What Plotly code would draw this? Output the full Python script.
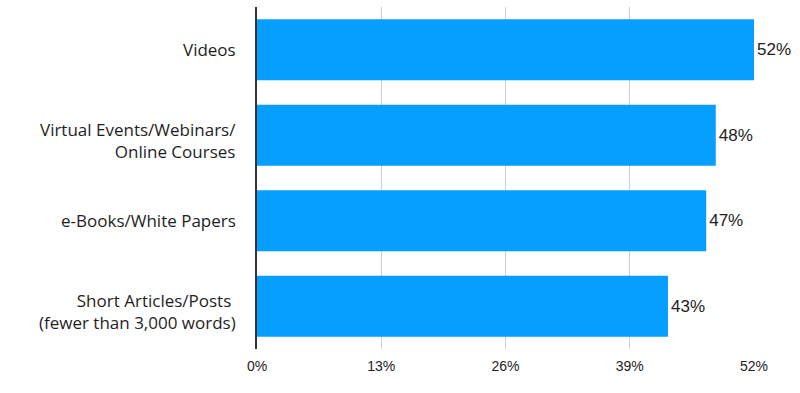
import plotly.graph_objects as go

categories = ["Short Articles/Posts <br>(fewer than 3,000 words)", "e-Books/White Papers",
              "Virtual Events/Webinars/<br>Online Courses", "Videos"]
values = [43, 47, 48, 52]
tick_vals = [0, 13, 26, 39, 52]
tick_text = ["0%", "13%", "26%", "39%", "52%"]

fig = go.Figure(go.Bar(
    y=categories, x=values, orientation="h",
    marker=dict(color="#069fff", line=dict(width=0)),
    text=[f"{v}%" for v in values], textposition="outside",
    textfont=dict(family="Liberation Sans, Arial", size=17, color="#222"),
    cliponaxis=False,
))

for c in categories:
    fig.add_annotation(
        x=0, xref="paper", y=c, yref="y", text=c, showarrow=False,
        xanchor="right", yanchor="middle", xshift=-19,
        yshift=-5 if "<br>" in c else 0, align="right",
        font=dict(family="Open Sans", size=17, color="#1e1e1e"),
    )

fig.update_layout(
    width=800, height=393,
    margin=dict(l=257, r=46, t=7, b=44),
    paper_bgcolor="white", plot_bgcolor="white",
    bargap=0.285, showlegend=False,
    xaxis=dict(range=[0, 52], tickvals=tick_vals, ticktext=tick_text,
               showgrid=True, gridcolor="#d0d0d0", gridwidth=1,
               zeroline=False, showline=False, ticks="",
               tickfont=dict(family="Liberation Sans, Arial", size=14, color="#222"),
               ticklabelstandoff=7),
    yaxis=dict(showline=True, linecolor="#333", linewidth=2, ticks="",
               showticklabels=False, showgrid=False),
)

fig.write_html("out.html", config={"displayModeBar": False},
               post_script="document.body.style.margin='0';")
